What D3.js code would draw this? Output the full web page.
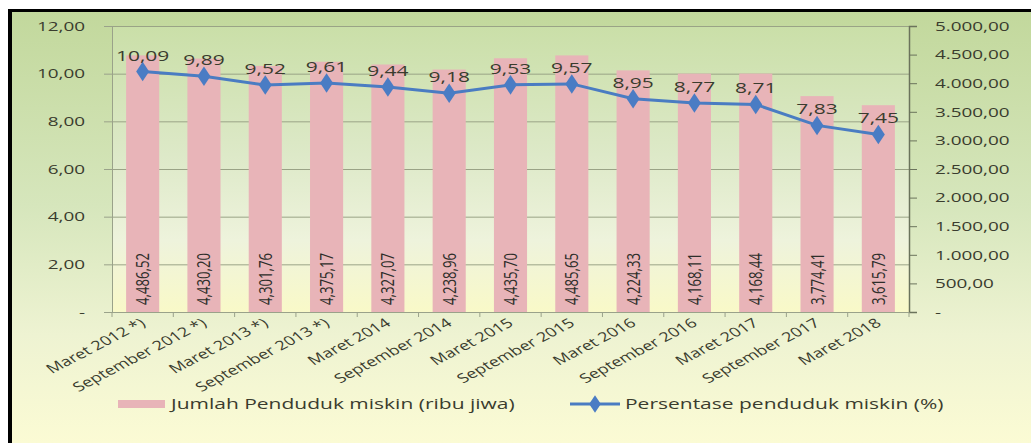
<!DOCTYPE html>
<html>
<head>
<meta charset="utf-8">
<title>Penduduk miskin</title>
<script src="https://d3js.org/d3.v7.min.js"></script>
<style>
body { margin: 0; background: #fff; }
text { font-family: "Open Sans", sans-serif; fill: #3a3c2e; }
</style>
</head>
<body>
<script>

var categories = ["Maret 2012 *)", "September 2012 *)", "Maret 2013 *)", "September 2013 *)",
  "Maret 2014", "September 2014", "Maret 2015", "September 2015", "Maret 2016",
  "September 2016", "Maret 2017", "September 2017", "Maret 2018"];
var jumlah = [4486.52, 4430.20, 4301.76, 4375.17, 4327.07, 4238.96, 4435.70,
  4485.65, 4224.33, 4168.11, 4168.44, 3774.41, 3615.79];
var persen = [10.09, 9.89, 9.52, 9.61, 9.44, 9.18, 9.53, 9.57, 8.95, 8.77, 8.71, 7.83, 7.45];
var leftTicks = [0, 2, 4, 6, 8, 10, 12];
var rightTicks = [0, 500, 1000, 1500, 2000, 2500, 3000, 3500, 4000, 4500, 5000];
var legendBar = "Jumlah Penduduk miskin (ribu jiwa)";
var legendLine = "Persentase penduduk miskin (%)";

var W = 1031, H = 443;
var plot = {left: 112, right: 909, top: 26, bottom: 312};
var SX = 1.4; // the picture is stretched sideways, so is the text

var fmtL = d3.formatLocale({decimal: ",", thousands: ".", grouping: [3], currency: ["", ""]});
var fmtBar = d3.formatLocale({decimal: ",", thousands: ",", grouping: [3], currency: ["", ""]});

var svg = d3.select("body").append("svg")
  .attr("width", W)
  .attr("height", H);

var defs = svg.append("defs");
var bg = defs.append("linearGradient").attr("id", "bg").attr("x1", 0).attr("y1", 0).attr("x2", 0).attr("y2", 1);
bg.append("stop").attr("offset", "0%").attr("stop-color", "#c2d89c");
bg.append("stop").attr("offset", "45%").attr("stop-color", "#d6e6bc");
bg.append("stop").attr("offset", "75%").attr("stop-color", "#eef3d2");
bg.append("stop").attr("offset", "100%").attr("stop-color", "#fbfbd4");

var pg = defs.append("linearGradient").attr("id", "pg").attr("x1", 0).attr("y1", 0).attr("x2", 0).attr("y2", 1);
pg.append("stop").attr("offset", "0%").attr("stop-color", "#cadfa8");
pg.append("stop").attr("offset", "45%").attr("stop-color", "#dde9c8");
pg.append("stop").attr("offset", "75%").attr("stop-color", "#eef3dc");
pg.append("stop").attr("offset", "100%").attr("stop-color", "#f9f9c8");

svg.append("rect").attr("x", 10).attr("y", 11).attr("width", W - 10).attr("height", H - 11)
  .attr("fill", "url(#bg)");

svg.append("rect")
  .attr("x", plot.left).attr("y", plot.top)
  .attr("width", plot.right - plot.left).attr("height", plot.bottom - plot.top)
  .attr("fill", "url(#pg)");

// frame
svg.append("line").attr("x1", 10).attr("x2", 10).attr("y1", 9).attr("y2", H)
  .attr("stroke", "#000").attr("stroke-width", 4);
svg.append("line").attr("x1", 8).attr("x2", W).attr("y1", 10.5).attr("y2", 10.5)
  .attr("stroke", "#000").attr("stroke-width", 3);

var x = d3.scaleBand()
  .domain(categories)
  .range([plot.left, plot.right])
  .paddingInner(0.46)
  .paddingOuter(0.23);

var yL = d3.scaleLinear().domain([0, 12]).range([plot.bottom, plot.top]);
var yR = d3.scaleLinear().domain([0, 5000]).range([plot.bottom, plot.top]);

// grid
svg.append("g").selectAll("line")
  .data(leftTicks.filter(function(d) { return d > 0; }))
  .enter().append("line")
  .attr("x1", plot.left).attr("x2", plot.right)
  .attr("y1", function(d) { return yL(d) + 0.5; })
  .attr("y2", function(d) { return yL(d) + 0.5; })
  .attr("stroke", "#9aa386").attr("stroke-width", 1);

// left axis
var gl = svg.append("g")
  .attr("transform", "translate(" + plot.left + ",0)")
  .call(d3.axisLeft(yL).tickValues(leftTicks).tickSize(8)
    .tickFormat(function(d) { return d === 0 ? "-" : fmtL.format(".2f")(d); }));
gl.select(".domain").attr("stroke", "#9aa28a");
gl.selectAll(".tick line").attr("stroke", "#9aa28a");
gl.selectAll(".tick text")
  .attr("x", -27 / SX)
  .attr("transform", "scale(" + SX + ",1)")
  .style("font-size", "13.5px");

// right axis
var gr = svg.append("g")
  .attr("transform", "translate(" + plot.right + ",0)")
  .call(d3.axisRight(yR).tickValues(rightTicks).tickSize(8)
    .tickFormat(function(d) { return d === 0 ? "-" : fmtL.format(",.2f")(d); }));
gr.select(".domain").attr("stroke", "#6b735c").attr("stroke-width", 1.5);
gr.selectAll(".tick line").attr("stroke", "#6b735c");
gr.selectAll(".tick text")
  .attr("x", 26 / SX)
  .attr("transform", "scale(" + SX + ",1)")
  .style("font-size", "13.5px");

// bars
svg.append("g").selectAll("rect")
  .data(jumlah)
  .enter().append("rect")
  .attr("x", function(d, i) { return x(categories[i]); })
  .attr("width", x.bandwidth())
  .attr("y", function(d) { return yR(d); })
  .attr("height", function(d) { return plot.bottom - yR(d); })
  .attr("fill", "#e8b4b8");

// baseline and category ticks
svg.append("line")
  .attr("x1", plot.left).attr("x2", plot.right)
  .attr("y1", plot.bottom + 0.5).attr("y2", plot.bottom + 0.5)
  .attr("stroke", "#9aa28a");
var bounds = categories.map(function(c) { return x(c) - x.step() * x.paddingInner() / 2; });
bounds.push(plot.right);
svg.append("g").selectAll("line")
  .data(bounds)
  .enter().append("line")
  .attr("x1", function(d) { return d; }).attr("x2", function(d) { return d; })
  .attr("y1", plot.bottom).attr("y2", plot.bottom + 5)
  .attr("stroke", "#9aa28a");

// bar value labels
svg.append("g").selectAll("text")
  .data(jumlah)
  .enter().append("text")
  .attr("transform", function(d, i) {
    return "translate(" + (x(categories[i]) + x.bandwidth() / 2) + "," + (plot.bottom - 7) + ") scale(" + SX + ",1) rotate(-90)";
  })
  .attr("dy", "0.35em")
  .attr("text-anchor", "start")
  .style("font-size", "13.2px")
  .style("fill", "#2e2e2a")
  .text(function(d) { return fmtBar.format(",.2f")(d); });

// line
var cx = function(i) { return x(categories[i]) + x.bandwidth() / 2; };
var line = d3.line()
  .x(function(d, i) { return cx(i); })
  .y(function(d) { return yL(d); });

svg.append("path")
  .datum(persen)
  .attr("d", line)
  .attr("fill", "none")
  .attr("stroke", "#4a7cc2")
  .attr("stroke-width", 3);

svg.append("g").selectAll("path")
  .data(persen)
  .enter().append("path")
  .attr("d", d3.symbol().type(d3.symbolDiamond).size(110))
  .attr("transform", function(d, i) { return "translate(" + cx(i) + "," + yL(d) + ") scale(1.15,1)"; })
  .attr("fill", "#4a7cc4");

// percent labels
svg.append("g").selectAll("text")
  .data(persen)
  .enter().append("text")
  .attr("transform", function(d, i) { return "translate(" + cx(i) + "," + (yL(d) - 11) + ") scale(" + SX + ",1)"; })
  .attr("text-anchor", "middle")
  .style("font-size", "15px")
  .text(function(d) { return fmtL.format(".2f")(d); });

// category labels
svg.append("g").selectAll("text")
  .data(categories)
  .enter().append("text")
  .attr("transform", function(d) {
    return "translate(" + (x(d) + x.bandwidth() / 2 + 4) + "," + (plot.bottom + 13) + ") scale(" + SX + ",1) rotate(-36)";
  })
  .attr("text-anchor", "end")
  .style("font-size", "13px")
  .text(function(d) { return d; });

// legend
var ly = 404;
svg.append("rect").attr("x", 118).attr("y", ly - 4).attr("width", 47).attr("height", 8)
  .attr("fill", "#e8b4b8");
svg.append("text")
  .attr("transform", "translate(171," + ly + ") scale(" + SX + ",1)")
  .attr("dy", "0.35em")
  .style("font-size", "15px")
  .text(legendBar);

svg.append("line").attr("x1", 570).attr("x2", 620).attr("y1", ly).attr("y2", ly)
  .attr("stroke", "#4a7cc2").attr("stroke-width", 3);
svg.append("path")
  .attr("d", d3.symbol().type(d3.symbolDiamond).size(90))
  .attr("transform", "translate(595," + ly + ") scale(1.15,1)")
  .attr("fill", "#4a7cc4");
svg.append("text")
  .attr("transform", "translate(625," + ly + ") scale(" + SX + ",1)")
  .attr("dy", "0.35em")
  .style("font-size", "15px")
  .text(legendLine);

</script>
</body>
</html>
